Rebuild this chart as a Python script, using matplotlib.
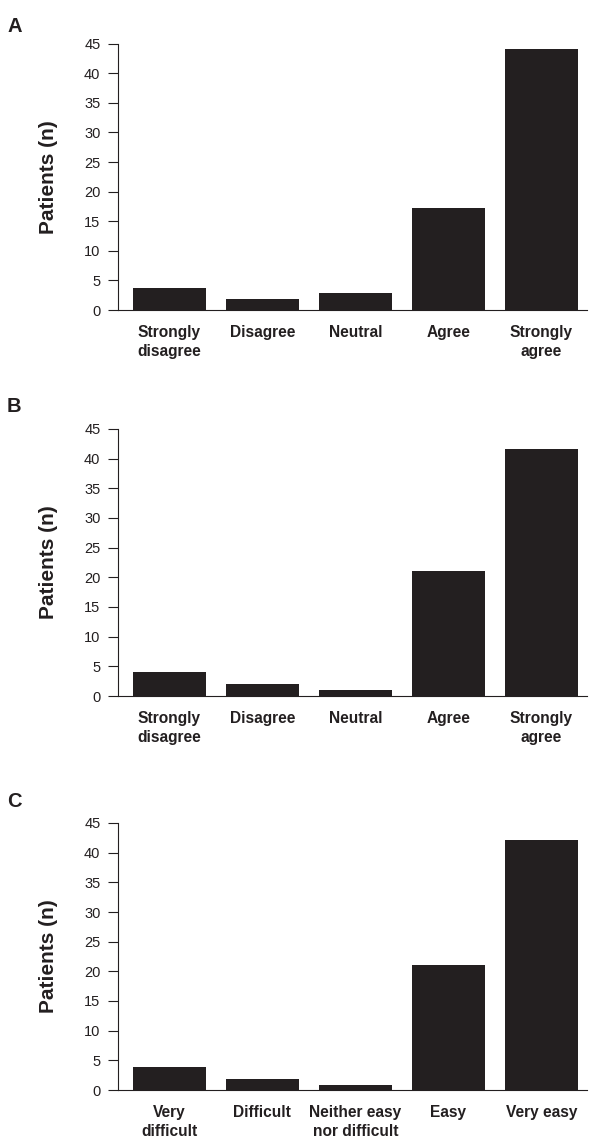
import matplotlib
matplotlib.use("Agg")
import matplotlib.pyplot as plt

plt.rcParams['font.family'] = ['Liberation Sans', 'DejaVu Sans']

cats_ab = ["Strongly\ndisagree", "Disagree", "Neutral", "Agree", "Strongly\nagree"]
cats_c = ["Very\ndifficult", "Difficult", "Neither easy\nnor difficult", "Easy", "Very easy"]

vals_a = [3.7, 1.9, 2.9, 17.3, 44.1]
vals_b = [4.0, 2.0, 1.0, 21.0, 41.6]
vals_c = [3.9, 1.9, 0.9, 21.0, 42.2]

yticks = [0, 5, 10, 15, 20, 25, 30, 35, 40, 45]
panel_letters = ["A", "B", "C"]

DARK = "#231f20"
W, H = 590, 1140
fig = plt.figure(figsize=(W / 100, H / 100), dpi=100)

# (top_px, bottom_px, letter_baseline_px)
layout = [(43.7, 310, 32), (429, 696, 412), (823, 1090, 807)]
left_px, right_px = 117.8, 587
panels = [(cats_ab, vals_a), (cats_ab, vals_b), (cats_c, vals_c)]

for (cats, vals), (top, bot, lb), letter in zip(panels, layout, panel_letters):
    ax = fig.add_axes([left_px / W, 1 - bot / H, (right_px - left_px) / W, (bot - top) / H])
    x = list(range(len(cats)))
    ax.bar(x, vals, width=0.785, color=DARK, edgecolor='none')
    ax.set_xlim(-0.554, 4.49)
    ax.set_ylim(0, 45)
    ax.set_yticks(yticks)
    ax.set_yticklabels([str(t) for t in yticks], fontsize=10.5, color=DARK)
    ax.set_xticks(x)
    ax.set_xticklabels(cats, fontsize=11.2, fontweight='bold', color=DARK, linespacing=1.35)
    ax.tick_params(axis='x', length=0, pad=11)
    ax.tick_params(axis='y', length=7, width=0.8, color=DARK, pad=5.5)
    for s in ['top', 'right']:
        ax.spines[s].set_visible(False)
    for s in ['left', 'bottom']:
        ax.spines[s].set_linewidth(0.8)
        ax.spines[s].set_color(DARK)
    ax.set_ylabel("Patients (n)", fontsize=15, fontweight='bold', color=DARK)
    ax.yaxis.set_label_coords(-0.1275, 0.5)
    fig.text(7 / W, 1 - lb / H, letter, fontsize=14.5, fontweight='bold', color=DARK,
             ha='left', va='baseline')

fig.savefig("out.png", dpi=100)
